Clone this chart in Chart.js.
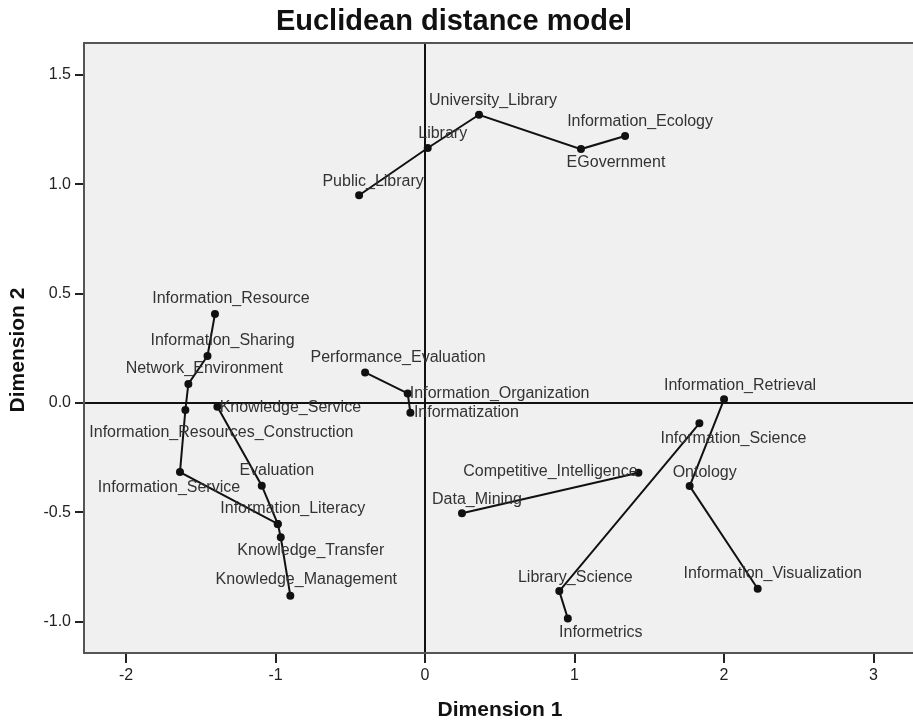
<!DOCTYPE html>
<html>
<head>
<meta charset="utf-8">
<script src="https://cdn.jsdelivr.net/npm/chart.js@4/dist/chart.umd.min.js"></script>
<style>
  body { margin: 0; background: #fff; overflow: hidden; }
  #wrap { width: 913px; height: 720px; overflow: hidden; }
</style>
</head>
<body>
<div id="wrap"><canvas id="myChart" width="930" height="720"></canvas></div>
<script>
// stimulus coordinates
var terms = [
  'Public_Library', 'Library', 'University_Library', 'EGovernment', 'Information_Ecology',
  'Information_Resource', 'Information_Sharing', 'Network_Environment',
  'Information_Resources_Construction', 'Information_Service', 'Knowledge_Service',
  'Evaluation', 'Information_Literacy', 'Knowledge_Transfer', 'Knowledge_Management',
  'Performance_Evaluation', 'Information_Organization', 'Informatization',
  'Data_Mining', 'Competitive_Intelligence', 'Information_Retrieval', 'Ontology',
  'Information_Visualization', 'Information_Science', 'Library_Science', 'Informetrics'
];
var dim1 = [
  -0.441, 0.018, 0.361, 1.043, 1.338,
  -1.405, -1.455, -1.583,
  -1.603, -1.639, -1.389,
  -1.092, -0.985, -0.965, -0.901,
  -0.401, -0.116, -0.098,
  0.247, 1.427, 2.000, 1.770,
  2.225, 1.835, 0.898, 0.955
];
var dim2 = [
  0.950, 1.166, 1.318, 1.161, 1.221,
  0.407, 0.215, 0.087,
  -0.032, -0.316, -0.017,
  -0.378, -0.553, -0.614, -0.881,
  0.140, 0.044, -0.044,
  -0.504, -0.319, 0.017, -0.380,
  -0.849, -0.093, -0.860, -0.985
];

// which points are joined by lines
var chains = [
  ['Public_Library', 'Library', 'University_Library', 'EGovernment', 'Information_Ecology'],
  ['Information_Resource', 'Information_Sharing', 'Network_Environment', 'Information_Resources_Construction',
   'Information_Service', 'Information_Literacy', 'Knowledge_Transfer', 'Knowledge_Management'],
  ['Knowledge_Service', 'Evaluation', 'Information_Literacy'],
  ['Performance_Evaluation', 'Information_Organization', 'Informatization'],
  ['Data_Mining', 'Competitive_Intelligence'],
  ['Information_Science', 'Library_Science', 'Informetrics'],
  ['Information_Retrieval', 'Ontology', 'Information_Visualization']
];

var xTicks = [-2, -1, 0, 1, 2, 3];
var yTicks = [-1.0, -0.5, 0.0, 0.5, 1.0, 1.5];

// label placement, pixel offset of text centre from the point
var labelOffsets = {
  Public_Library: [14, -14], Library: [15, -14], University_Library: [14, -14],
  EGovernment: [35, 14], Information_Ecology: [15, -14],
  Information_Resource: [16, -15], Information_Sharing: [15, -15], Network_Environment: [16, -15],
  Information_Resources_Construction: [36, 23], Information_Service: [-11, 15],
  Knowledge_Service: [73, 1], Evaluation: [15, -15], Information_Literacy: [15, -15],
  Knowledge_Transfer: [30, 13], Knowledge_Management: [16, -16],
  Performance_Evaluation: [33, -15], Information_Organization: [92, 0], Informatization: [56, 0],
  Data_Mining: [15, -14], Competitive_Intelligence: [-88, -1],
  Information_Retrieval: [16, -14], Ontology: [15, -14], Information_Visualization: [15, -15],
  Information_Science: [34, 15], Library_Science: [16, -14], Informetrics: [33, 14]
};

var FONT = '"Liberation Sans", Arial, sans-serif';

var datasets = chains.map(function (chain) {
  return {
    data: chain.map(function (name) {
      var i = terms.indexOf(name);
      return { x: dim1[i], y: dim2[i] };
    }),
    showLine: true,
    borderColor: '#111',
    borderWidth: 2,
    backgroundColor: '#111',
    pointRadius: 3,
    pointHoverRadius: 3,
    tension: 0
  };
});

var panel = {
  id: 'panel',
  beforeDraw: function (chart) {
    var a = chart.chartArea, ctx = chart.ctx;
    ctx.save();
    ctx.fillStyle = '#f0f0f0';
    ctx.fillRect(a.left, a.top, a.right - a.left, a.bottom - a.top);
    ctx.restore();
  },
  afterDraw: function (chart) {
    var a = chart.chartArea, ctx = chart.ctx;
    ctx.save();
    // top frame line
    ctx.strokeStyle = '#555';
    ctx.lineWidth = 2;
    ctx.beginPath();
    ctx.moveTo(a.left, a.top);
    ctx.lineTo(a.right, a.top);
    ctx.stroke();
    // titles
    ctx.fillStyle = '#111';
    ctx.textAlign = 'center';
    ctx.textBaseline = 'middle';
    ctx.font = 'bold 29px ' + FONT;
    ctx.fillText('Euclidean distance model', 454, 22);
    ctx.font = 'bold 21px ' + FONT;
    ctx.fillText('Dimension 1', 500, 710);
    ctx.translate(18, 350);
    ctx.rotate(-Math.PI / 2);
    ctx.fillText('Dimension 2', 0, 0);
    ctx.restore();
  },
  afterDatasetsDraw: function (chart) {
    var xs = chart.scales.x, ys = chart.scales.y, ctx = chart.ctx;
    ctx.save();
    ctx.font = '16px ' + FONT;
    ctx.fillStyle = '#333';
    ctx.textAlign = 'center';
    ctx.textBaseline = 'middle';
    terms.forEach(function (name, i) {
      var off = labelOffsets[name];
      ctx.fillText(name, xs.getPixelForValue(dim1[i]) + off[0], ys.getPixelForValue(dim2[i]) + off[1]);
    });
    ctx.restore();
  }
};

var zeroLine = function (c) {
  return c.tick && c.tick.value === 0 ? '#111' : 'rgba(0,0,0,0)';
};

var ctx = document.getElementById('myChart').getContext('2d');
var chart = new Chart(ctx, {
  type: 'scatter',
  data: { datasets: datasets },
  options: {
    responsive: false,
    animation: false,
    layout: { padding: { top: 43, left: 0, right: 5, bottom: 0 } },
    plugins: { legend: { display: false }, tooltip: { enabled: false }, title: { display: false } },
    scales: {
      x: {
        min: -2.281, max: 3.344,
        afterFit: function (s) { s.height = 67; },
        afterBuildTicks: function (s) { s.ticks = xTicks.map(function (v) { return { value: v }; }); },
        ticks: { font: { size: 16, family: FONT }, color: '#222', padding: 3,
                 callback: function (v) { return v.toFixed(0); } },
        grid: { color: zeroLine, lineWidth: 2, tickColor: '#222', tickWidth: 2, tickLength: 10 },
        border: { display: true, color: '#555', width: 2 }
      },
      y: {
        min: -1.143, max: 1.646,
        afterFit: function (s) { s.width = 84; },
        afterBuildTicks: function (s) { s.ticks = yTicks.map(function (v) { return { value: v }; }); },
        ticks: { font: { size: 16, family: FONT }, color: '#222', padding: 4,
                 callback: function (v) { return v.toFixed(1); } },
        grid: { color: zeroLine, lineWidth: 2, tickColor: '#222', tickWidth: 2, tickLength: 9 },
        border: { display: true, color: '#555', width: 2 }
      }
    }
  },
  plugins: [panel]
});
</script>
</body>
</html>
